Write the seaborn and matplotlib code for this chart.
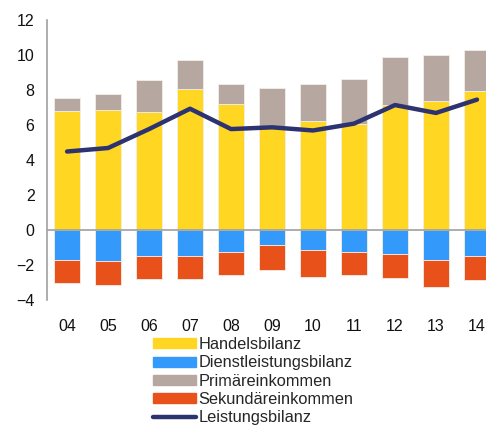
import matplotlib.pyplot as plt
import numpy as np
import seaborn as sns
from matplotlib.lines import Line2D
from matplotlib.patches import Patch

years = ["04", "05", "06", "07", "08", "09", "10", "11", "12", "13", "14"]
handel = [6.76, 6.82, 6.74, 8.04, 7.20, 5.90, 6.23, 6.04, 7.12, 7.37, 7.90]
primaer = [0.74, 0.95, 1.81, 1.66, 1.14, 2.20, 2.09, 2.55, 2.75, 2.59, 2.35]
dienst = [-1.71, -1.79, -1.47, -1.49, -1.26, -0.86, -1.12, -1.27, -1.35, -1.73, -1.47]
sekundaer = [-1.34, -1.33, -1.35, -1.33, -1.33, -1.44, -1.55, -1.30, -1.41, -1.51, -1.40]
leistung = [4.47, 4.67, 5.75, 6.91, 5.75, 5.85, 5.67, 6.06, 7.12, 6.67, 7.43]

labels = ["Handelsbilanz", "Dienstleistungsbilanz", "Primäreinkommen",
          "Sekundäreinkommen", "Leistungsbilanz"]
colors = ["#FFD622", "#3399FA", "#B6A8A1", "#E8521A", "#2D3370"]

sns.set_style("white")
plt.rcParams["font.family"] = ["Liberation Sans", "DejaVu Sans"]

fig = plt.figure(figsize=(4.86, 4.25), dpi=100)
ax = fig.add_axes([47 / 486, 1 - 300 / 425, 1 - 47 / 486, (300 - 19.5) / 425])

x = np.arange(len(years))
w = 0.64
edge = dict(edgecolor="#f3eee6", linewidth=0.6)
ax.bar(x, handel, width=w, color=colors[0], **edge)
ax.bar(x, primaer, width=w, bottom=handel, color=colors[2], **edge)
ax.bar(x, dienst, width=w, color=colors[1], **edge)
ax.bar(x, sekundaer, width=w, bottom=dienst, color=colors[3], **edge)
sns.lineplot(x=x, y=leistung, ax=ax, color=colors[4], linewidth=3.2, legend=False)

ax.axhline(0, color="#a0a0a0", linewidth=1.2)
ax.set_ylim(-4, 12)
ax.set_xlim(-0.49, 10.22)
ax.set_yticks(range(-4, 13, 2))
ax.set_xticks(x)
ax.set_xticklabels(years)
for s in ["top", "right", "bottom"]:
    ax.spines[s].set_visible(False)
ax.spines["left"].set_color("#a0a0a0")
ax.spines["left"].set_linewidth(1.2)
ax.tick_params(axis="both", length=0, labelsize=11.5, colors="#111111")
ax.tick_params(axis="y", pad=9)
ax.tick_params(axis="x", pad=14)
ax.grid(False)

handles = [Patch(color=colors[0]), Patch(color=colors[1]), Patch(color=colors[2]),
           Patch(color=colors[3]), Line2D([], [], color=colors[4], linewidth=3.2)]
fig.legend(handles, labels, loc="upper left", bbox_to_anchor=(145 / 486, 1 - 329 / 425),
           frameon=False, fontsize=11.8, handlelength=2.6, handleheight=0.55,
           handletextpad=0.15, labelspacing=0.2, borderpad=0)

fig.savefig("out.png", dpi=100)
